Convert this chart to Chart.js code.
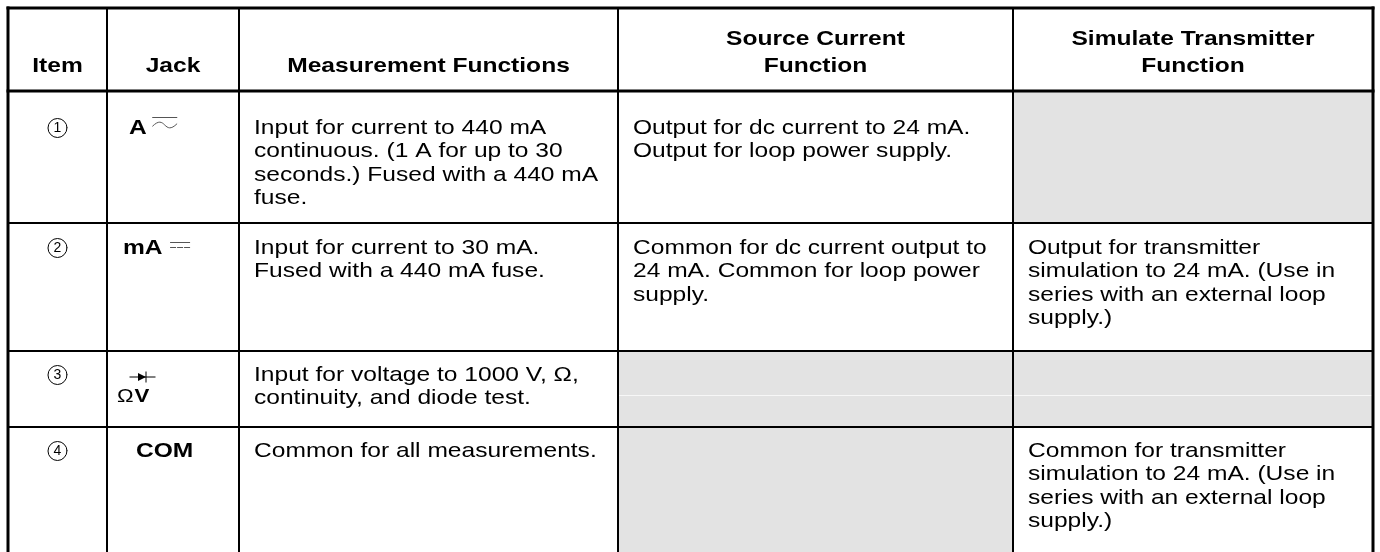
<!DOCTYPE html>
<html>
<head>
<meta charset="utf-8">
<title>Jacks</title>
<script src="https://cdn.jsdelivr.net/npm/chart.js"></script>
<style>
  body { margin: 0; background: #fff; }
  #wrap { width: 1380px; height: 552px; }
</style>
</head>
<body>
<div id="wrap"><canvas id="jackTable" width="1380" height="552"></canvas></div>
<script>
// table content
const headers = ['Item', 'Jack', 'Measurement Functions', 'Source Current\nFunction', 'Simulate Transmitter\nFunction'];
const items = ['1', '2', '3', '4'];
const jacks = ['A', 'mA', 'ΩV', 'COM'];
const measurement = [
  'Input for current to 440 mA\ncontinuous. (1 A for up to 30\nseconds.) Fused with a 440 mA\nfuse.',
  'Input for current to 30 mA.\nFused with a 440 mA fuse.',
  'Input for voltage to 1000 V, Ω,\ncontinuity, and diode test.',
  'Common for all measurements.'
];
const sourceCurrent = [
  'Output for dc current to 24 mA.\nOutput for loop power supply.',
  'Common for dc current output to\n24 mA. Common for loop power\nsupply.',
  null,
  null
];
const simulate = [
  null,
  'Output for transmitter\nsimulation to 24 mA. (Use in\nseries with an external loop\nsupply.)',
  null,
  'Common for transmitter\nsimulation to 24 mA. (Use in\nseries with an external loop\nsupply.)'
];

// grid of the table in page units
const colEdges = [8, 107, 239, 618, 1013, 1373];
const rowEdges = [8, 91, 223, 351, 427, 552];
const textLeft = [null, null, 254, 633, 1028];
const firstLine = [128, 248, 375, 451];
const LINE = 23.5;
const SX = 1.17;   // source is stretched sideways
const FS = 21;
const FONT = "'Liberation Sans', Arial, Helvetica, sans-serif";
const GRAY = '#e3e3e3';

function say(ctx, str, x, y, font, align) {
  ctx.save();
  ctx.translate(x, y);
  ctx.scale(SX, 1);
  ctx.font = font;
  ctx.textAlign = align || 'left';
  ctx.textBaseline = 'middle';
  ctx.fillStyle = '#000';
  ctx.fillText(str, 0, 0);
  const w = ctx.measureText(str).width * SX;
  ctx.restore();
  return w;
}

const tablePlugin = {
  id: 'tablePlugin',
  afterDraw(chart) {
    const ctx = chart.ctx;
    const px = v => chart.scales.x.getPixelForValue(v);
    const py = v => chart.scales.y.getPixelForValue(v);

    // empty cells are shaded
    ctx.fillStyle = GRAY;
    [sourceCurrent, simulate].forEach((col, k) => {
      col.forEach((t, r) => {
        if (t !== null) return;
        const c = k + 3;
        ctx.fillRect(px(colEdges[c]), py(rowEdges[r + 1]), px(colEdges[c + 1]) - px(colEdges[c]), py(rowEdges[r + 2]) - py(rowEdges[r + 1]));
      });
    });
    // faint seam inside row 3 shading
    ctx.fillStyle = '#f7f7f7';
    ctx.fillRect(px(colEdges[3]), py(395), px(colEdges[5]) - px(colEdges[3]), 1);

    // rules
    ctx.strokeStyle = '#000';
    ctx.lineCap = 'square';
    colEdges.forEach((x, i) => {
      ctx.lineWidth = (i === 0 || i === colEdges.length - 1) ? 3 : 2;
      ctx.beginPath();
      ctx.moveTo(px(x), py(rowEdges[0]));
      ctx.lineTo(px(x), py(rowEdges[rowEdges.length - 1]) + 2);
      ctx.stroke();
    });
    rowEdges.slice(0, -1).forEach((y, i) => {
      ctx.lineWidth = i < 2 ? 3 : 2;
      ctx.beginPath();
      ctx.moveTo(px(colEdges[0]), py(y));
      ctx.lineTo(px(colEdges[colEdges.length - 1]), py(y));
      ctx.stroke();
    });

    // header
    const bold = 'bold ' + FS + 'px ' + FONT;
    const reg = FS + 'px ' + FONT;
    headers.forEach((h, c) => {
      const cx = (px(colEdges[c]) + px(colEdges[c + 1])) / 2;
      const lines = h.split('\n');
      lines.forEach((s, j) => {
        const y = lines.length === 1 ? 66 : [39, 66][j];
        say(ctx, s, cx, py(y), bold, 'center');
      });
    });

    // body text
    [measurement, sourceCurrent, simulate].forEach((col, k) => {
      col.forEach((t, r) => {
        if (!t) return;
        t.split('\n').forEach((s, j) => {
          say(ctx, s, px(textLeft[k + 2]), py(firstLine[r] + j * LINE), reg);
        });
      });
    });

    // item numbers in rings
    items.forEach((n, r) => {
      const cx = px(57.5), cy = py(firstLine[r]);
      ctx.lineWidth = 1;
      ctx.strokeStyle = '#000';
      ctx.beginPath();
      ctx.arc(cx, cy, 9.5, 0, Math.PI * 2);
      ctx.stroke();
      ctx.save();
      ctx.font = '14px ' + FONT;
      ctx.textAlign = 'center';
      ctx.textBaseline = 'middle';
      ctx.fillStyle = '#000';
      ctx.fillText(n, cx, cy + 0.5);
      ctx.restore();
    });

    // jack labels
    ctx.strokeStyle = '#555';
    ctx.lineWidth = 1;
    // A with ac/dc mark
    let y0 = py(firstLine[0]);
    let w = say(ctx, jacks[0], px(129), y0, bold);
    let sx = px(129) + w + 6;
    ctx.beginPath();
    ctx.moveTo(sx, y0 - 10.5); ctx.lineTo(sx + 24, y0 - 10.5);
    ctx.stroke();
    ctx.beginPath();
    ctx.moveTo(sx, y0 - 2);
    ctx.bezierCurveTo(sx + 6, y0 - 8, sx + 9, y0 - 6, sx + 12, y0 - 3);
    ctx.bezierCurveTo(sx + 15, y0, sx + 18, y0 + 2, sx + 24, y0 - 4);
    ctx.stroke();

    // mA with dc mark
    y0 = py(firstLine[1]);
    w = say(ctx, jacks[1], px(123), y0, bold);
    sx = px(123) + w + 8;
    ctx.beginPath();
    ctx.moveTo(sx, y0 - 5.5); ctx.lineTo(sx + 19, y0 - 5.5);
    for (let d = 0; d < 3; d++) {
      ctx.moveTo(sx + d * 7, y0 - 0.5); ctx.lineTo(sx + d * 7 + 5, y0 - 0.5);
    }
    ctx.stroke();

    // diode over ohm/volt
    y0 = py(firstLine[2]);
    const ly = y0 + 2;
    ctx.strokeStyle = '#000';
    ctx.fillStyle = '#000';
    ctx.beginPath();
    ctx.moveTo(px(130), ly); ctx.lineTo(px(155), ly);
    ctx.moveTo(px(146), ly - 5); ctx.lineTo(px(146), ly + 5);
    ctx.stroke();
    ctx.beginPath();
    ctx.moveTo(px(138), ly - 4); ctx.lineTo(px(146), ly); ctx.lineTo(px(138), ly + 4);
    ctx.closePath();
    ctx.fill();
    w = say(ctx, 'Ω', px(117), y0 + 22, '19px ' + FONT);
    say(ctx, 'V', px(117) + w + 1, y0 + 22, 'bold 19px ' + FONT);

    // COM
    say(ctx, jacks[3], px(136), py(firstLine[3]), bold);
  }
};

new Chart(document.getElementById('jackTable'), {
  type: 'scatter',
  data: { datasets: [{ data: [], pointRadius: 0 }] },
  options: {
    responsive: false,
    animation: false,
    devicePixelRatio: 1,
    layout: { padding: 0 },
    plugins: { legend: { display: false }, tooltip: { enabled: false } },
    scales: {
      x: { type: 'linear', min: 0, max: 1380, display: false },
      y: { type: 'linear', min: 0, max: 552, reverse: true, display: false }
    }
  },
  plugins: [tablePlugin]
});
</script>
</body>
</html>
